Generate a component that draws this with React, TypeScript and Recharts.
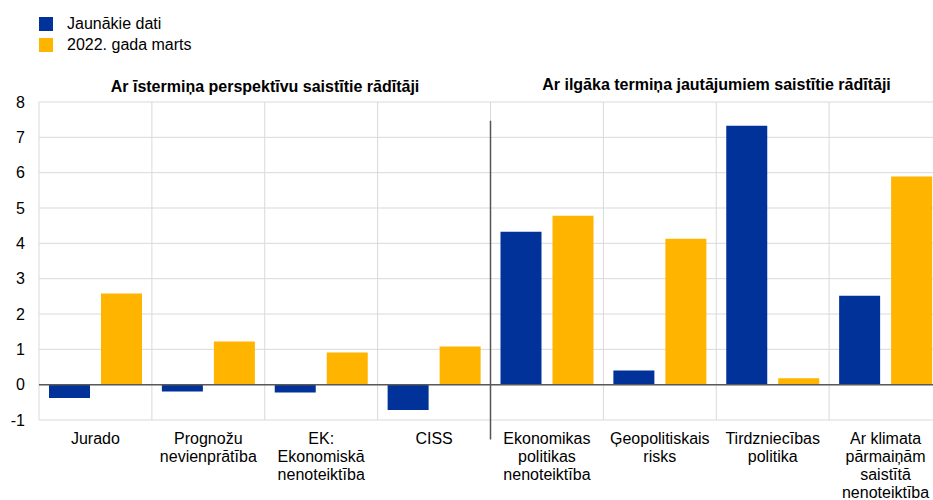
import React from "react";
import {
  Bar,
  BarChart,
  CartesianGrid,
  ReferenceLine,
  XAxis,
  YAxis,
} from "recharts";

const categories = [
  "Jurado",
  "Prognožu\nnevienprātība",
  "EK:\nEkonomiskā\nnenoteiktība",
  "CISS",
  "Ekonomikas\npolitikas\nnenoteiktība",
  "Ģeopolitiskais\nrisks",
  "Tirdzniecības\npolitika",
  "Ar klimata\npārmaiņām\nsaistītā\nnenoteiktība",
];
const latest = [-0.38, -0.19, -0.22, -0.72, 4.33, 0.4, 7.33, 2.52];
const march2022 = [2.58, 1.22, 0.91, 1.08, 4.78, 4.13, 0.18, 5.89];
const yTicks = [-1, 0, 1, 2, 3, 4, 5, 6, 7, 8];
const groupTitles = [
  "Ar īstermiņa perspektīvu saistītie rādītāji",
  "Ar ilgāka termiņa jautājumiem saistītie rādītāji",
];
const seriesNames = ["Jaunākie dati", "2022. gada marts"];

const BLUE = "#003299";
const YELLOW = "#FFB400";
const FONT = "'Liberation Sans', Arial, sans-serif";

const data = categories.map((name, i) => ({
  name,
  latest: latest[i],
  march: march2022[i],
}));

const CategoryTick = (props: any) => {
  const { x, y, payload } = props;
  const lines = String(payload.value).split("\n");
  return (
    <text x={x} y={y} textAnchor="middle" fill="#000" fontSize={16} fontFamily={FONT}>
      {lines.map((line, i) => (
        <tspan key={i} x={x} dy={i === 0 ? 16 : 18}>
          {line}
        </tspan>
      ))}
    </text>
  );
};

// grid lines on the category boundaries, not the centres
const boundaryLines = ({ offset }: any) =>
  [...categories, ""].map((_, i) => offset.left + (i * offset.width) / categories.length);

export default function App() {
  return (
    <div
      style={{
        position: "absolute",
        left: 0,
        top: 0,
        width: 933,
        height: 500,
        overflow: "hidden",
        background: "#fff",
        fontFamily: FONT,
      }}
    >
      <div style={{ position: "absolute", left: 39, top: 13 }}>
        {seriesNames.map((s, i) => (
          <div
            key={s}
            style={{ display: "flex", alignItems: "center", height: 21, fontSize: 16 }}
          >
            <span
              style={{
                width: 14,
                height: 14,
                background: i === 0 ? BLUE : YELLOW,
                marginRight: 14,
                display: "inline-block",
              }}
            />
            {s}
          </div>
        ))}
      </div>
      <div
        style={{
          position: "absolute",
          left: 39,
          width: 452,
          top: 78,
          textAlign: "center",
          fontWeight: "bold",
          fontSize: 16,
        }}
      >
        {groupTitles[0]}
      </div>
      <div
        style={{
          position: "absolute",
          left: 491,
          width: 451,
          top: 76,
          textAlign: "center",
          fontWeight: "bold",
          fontSize: 16,
        }}
      >
        {groupTitles[1]}
      </div>
      <BarChart
        width={942}
        height={500}
        data={data}
        margin={{ top: 102, right: 0, left: 0, bottom: 0 }}
        barCategoryGap={10}
        barGap={11}
      >
        <CartesianGrid stroke="#d9d9d9" verticalCoordinatesGenerator={boundaryLines} />
        <XAxis
          dataKey="name"
          interval={0}
          tickLine={false}
          axisLine={false}
          height={80}
          tick={<CategoryTick />}
        />
        <YAxis
          domain={[-1, 8]}
          ticks={yTicks}
          width={39}
          axisLine={false}
          tickLine={false}
          tickMargin={8}
          tick={{ fill: "#000", fontSize: 16, fontFamily: FONT }}
        />
        <Bar dataKey="latest" fill={BLUE} isAnimationActive={false} />
        <Bar dataKey="march" fill={YELLOW} isAnimationActive={false} />
        <ReferenceLine y={0} stroke="#595959" strokeWidth={1.5} />
        <ReferenceLine
          segment={[
            { x: categories[3], y: 7.47 },
            { x: categories[3], y: -1.55 },
          ]}
          position="end"
          ifOverflow="visible"
          stroke="#555"
          strokeWidth={1.5}
        />
      </BarChart>
    </div>
  );
}
